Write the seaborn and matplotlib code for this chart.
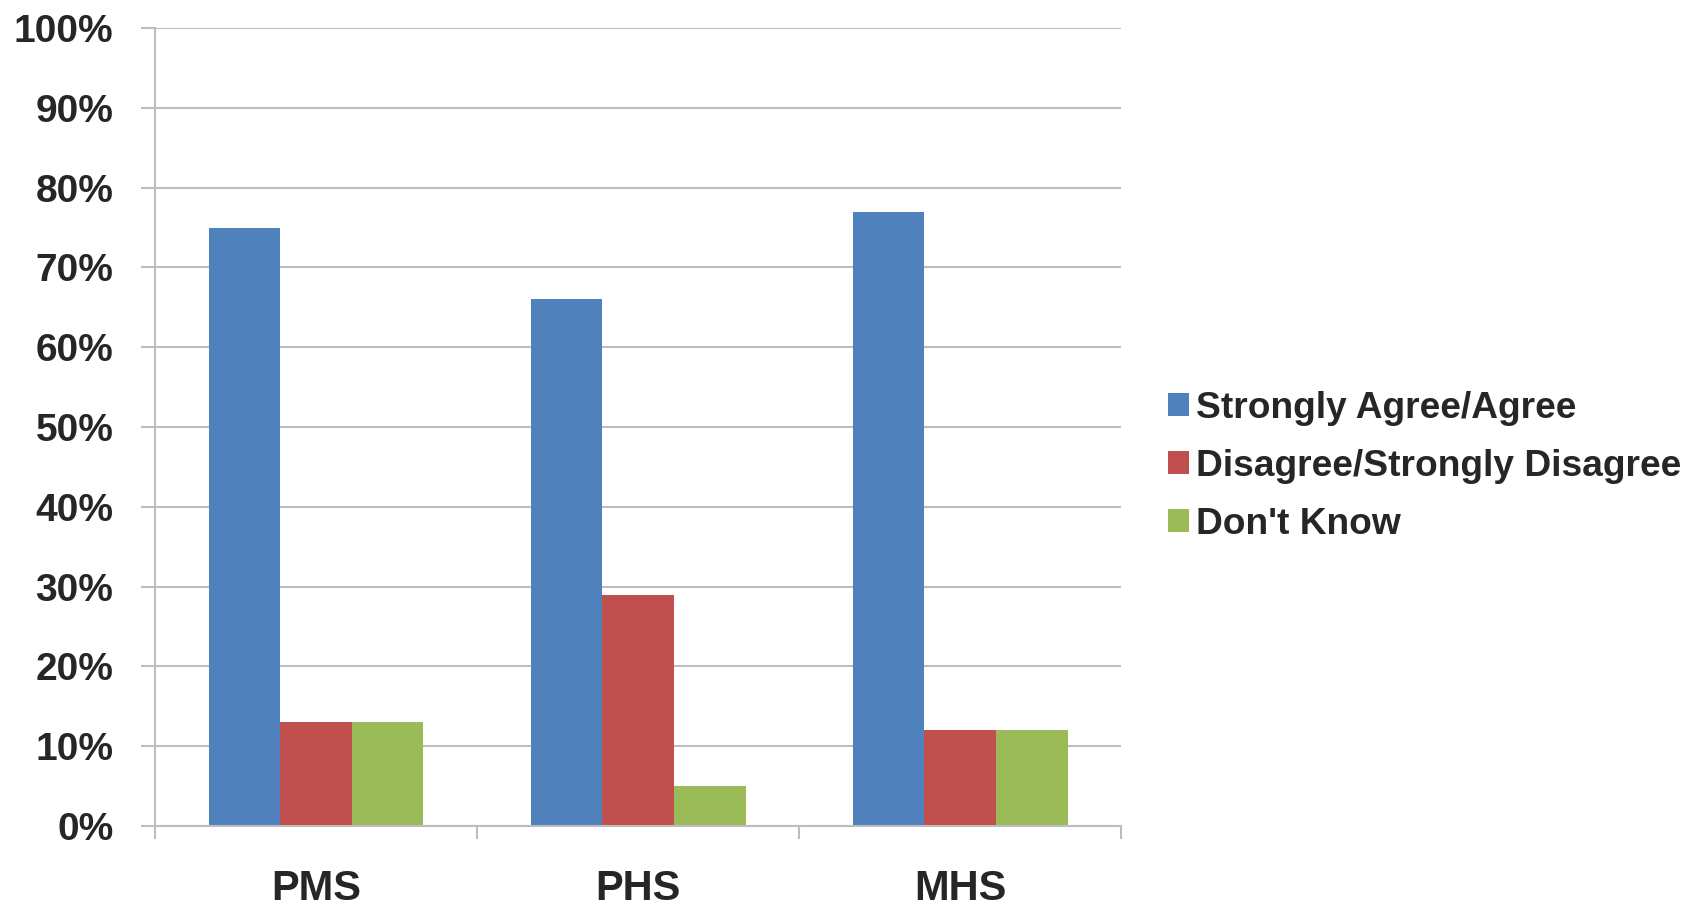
import numpy as np
import pandas as pd
import seaborn as sns
import matplotlib.pyplot as plt
from matplotlib.patches import Patch

# chart data
schools = ['PMS', 'PHS', 'MHS']
responses = ['Strongly Agree/Agree', 'Disagree/Strongly Disagree', "Don't Know"]
agree = [75, 66, 77]
disagree = [13, 29, 12]
dont_know = [13, 5, 12]
yticks = [0, 10, 20, 30, 40, 50, 60, 70, 80, 90, 100]
colors = ['#4F81BD', '#C0504D', '#9BBB59']

df = pd.DataFrame({'School': schools * 3,
                   'Response': np.repeat(responses, 3),
                   'Percent': agree + disagree + dont_know})

sns.set_style('white')
plt.rcParams['font.family'] = ['Liberation Sans', 'DejaVu Sans']

fig = plt.figure(figsize=(16.96, 9.07), dpi=100)
ax = fig.add_axes([0.0914, 0.0893, 0.5697, 0.8798])

sns.barplot(data=df, x='School', y='Percent', hue='Response', order=schools,
            hue_order=responses, palette=colors, saturation=1, width=0.667,
            linewidth=0, ax=ax, legend=False)

grid_c = '#BDBDBD'
ax.set_ylim(0, 100)
ax.set_xlim(-0.5, 2.5)
ax.set_yticks(yticks)
ax.set_yticklabels([f'{v}%' for v in yticks], fontsize=28, fontweight='bold')
ax.yaxis.grid(True, color=grid_c, linewidth=1.5)
ax.set_axisbelow(True)
ax.tick_params(axis='y', length=10, width=1.5, color=grid_c, pad=20, left=True)

ax.set_xticks([0, 1, 2])
ax.set_xticklabels(schools, fontsize=30, fontweight='bold')
ax.set_xticks([-0.5, 0.5, 1.5, 2.5], minor=True)
ax.tick_params(axis='x', which='major', length=0, pad=31)
ax.tick_params(axis='x', which='minor', length=9, width=1.5, color=grid_c, bottom=True)

for s in ['top', 'right']:
    ax.spines[s].set_visible(False)
for s in ['left', 'bottom']:
    ax.spines[s].set_color(grid_c)
    ax.spines[s].set_linewidth(1.5)
ax.set_xlabel('')
ax.set_ylabel('')

handles = [Patch(facecolor=c, edgecolor='none') for c in colors]
fig.legend(handles, responses, loc='center left', bbox_to_anchor=(0.678, 0.486),
           frameon=False, borderpad=0, handlelength=0.55, handleheight=0.55,
           handletextpad=0.2, labelspacing=0.62,
           prop={'size': 26.7, 'weight': 'bold'})

fig.savefig('out.png', dpi=100)
